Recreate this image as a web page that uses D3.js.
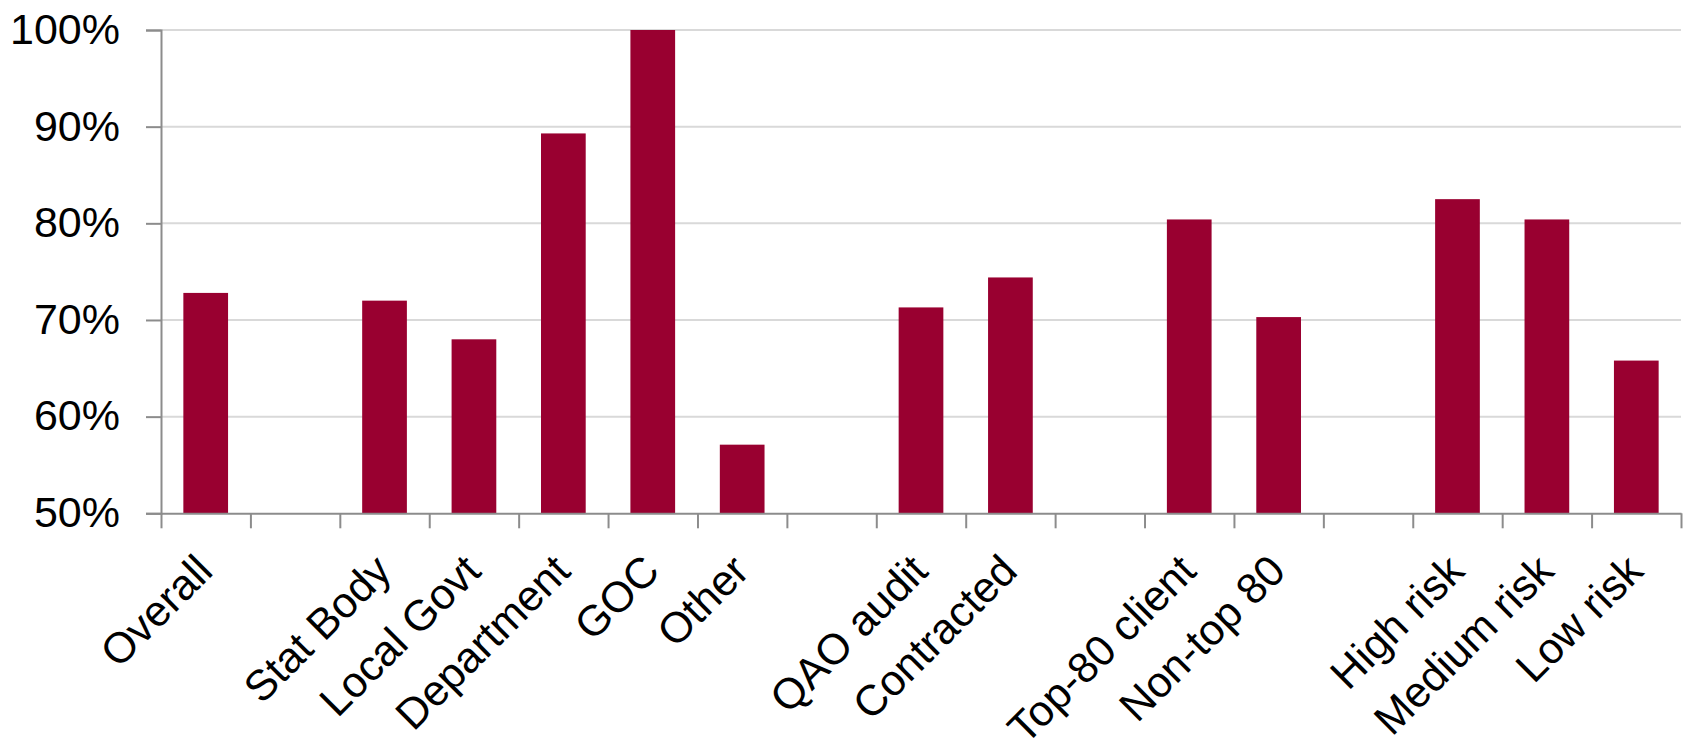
<!DOCTYPE html>
<html>
<head>
<meta charset="utf-8">
<script src="https://cdn.jsdelivr.net/npm/d3@7"></script>
<style>
  html, body { margin: 0; padding: 0; background: #fff; }
  svg { display: block; }
  text { font-family: "Liberation Sans", Arial, sans-serif; fill: #000; }
</style>
</head>
<body>
<svg id="chart" width="1688" height="755"></svg>
<script>
// ---- data ----
const categories = ["Overall", "", "Stat Body", "Local Govt", "Department", "GOC", "Other", "",
                    "QAO audit", "Contracted", "", "Top-80 client", "Non-top 80", "",
                    "High risk", "Medium risk", "Low risk"];
const values = [0.728, null, 0.720, 0.680, 0.893, 1.000, 0.571, null,
                0.713, 0.744, null, 0.804, 0.703, null,
                0.825, 0.804, 0.658];
const yTicks = [0.5, 0.6, 0.7, 0.8, 0.9, 1.0];
const yTickLabels = ["50%", "60%", "70%", "80%", "90%", "100%"];

// ---- layout ----
const svg = d3.select("#chart");
const plotLeft = 161, plotRight = 1681, plotTop = 30, plotBottom = 513.3;
const fontSize = 43;

const x = d3.scaleBand().domain(d3.range(categories.length))
  .range([plotLeft, plotRight]).paddingInner(0.5).paddingOuter(0.25);
const xEdges = d3.scaleLinear().domain([0, categories.length]).range([plotLeft, plotRight]);
const y = d3.scaleLinear().domain([0.5, 1.0]).range([plotBottom, plotTop]);

// gridlines
svg.append("g").selectAll("line")
  .data(yTicks.filter(t => t > 0.5))
  .join("line")
  .attr("x1", plotLeft).attr("x2", plotRight)
  .attr("y1", d => y(d)).attr("y2", d => y(d))
  .attr("stroke", "#d9d9d9").attr("stroke-width", 2);

// bars
svg.append("g").selectAll("rect")
  .data(values.map((v, i) => ({ v, i })).filter(d => d.v !== null))
  .join("rect")
  .attr("x", d => x(d.i))
  .attr("width", x.bandwidth())
  .attr("y", d => y(d.v))
  .attr("height", d => y(0.5) - y(d.v))
  .attr("fill", "#990030");

// y axis
const yAxis = svg.append("g")
  .attr("transform", `translate(${plotLeft},0)`)
  .call(d3.axisLeft(y).tickValues(yTicks)
        .tickFormat((d, i) => yTickLabels[i]).tickSize(15).tickPadding(26));
yAxis.select(".domain").attr("stroke", "#8c8c8c").attr("stroke-width", 2);
yAxis.selectAll(".tick line").attr("stroke", "#8c8c8c").attr("stroke-width", 2);
yAxis.selectAll(".tick text")
  .attr("font-size", fontSize)
  .attr("font-family", "'Liberation Sans', Arial, sans-serif")
  .attr("fill", "#000")
  .attr("dy", "0.31em");

// x axis (tick marks at category boundaries)
const xAxis = svg.append("g")
  .attr("transform", `translate(0,${plotBottom})`)
  .call(d3.axisBottom(xEdges).tickValues(d3.range(categories.length + 1))
        .tickFormat("").tickSize(15).tickSizeOuter(0));
xAxis.select(".domain").attr("stroke", "#8c8c8c").attr("stroke-width", 2);
xAxis.selectAll(".tick line").attr("stroke", "#8c8c8c").attr("stroke-width", 2);

// rotated category labels
svg.append("g").selectAll("text")
  .data(categories.map((c, i) => ({ c, i })).filter(d => d.c !== ""))
  .join("text")
  .attr("transform", d => `translate(${x(d.i) + x.bandwidth() / 2 + 9},${plotBottom + 60}) rotate(-45)`)
  .attr("text-anchor", "end")
  .attr("font-size", fontSize)
  .text(d => d.c);
</script>
</body>
</html>
